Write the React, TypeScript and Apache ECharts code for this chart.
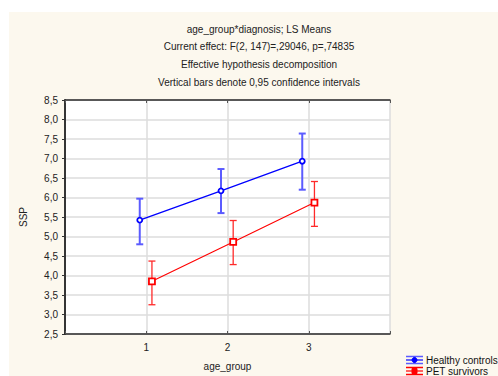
import React, { useEffect, useRef } from 'react';
import * as echarts from 'echarts';

const categories = [1, 2, 3];
const healthyMeans = [5.42, 6.17, 6.93];
const healthyLow = [4.80, 5.60, 6.20];
const healthyHigh = [5.97, 6.73, 7.64];
const petMeans = [3.85, 4.86, 5.87];
const petLow = [3.25, 4.28, 5.26];
const petHigh = [4.37, 5.41, 6.41];
const seriesNames = ['Healthy controls', 'PET survivors'];
const titleLines = [
  'age_group*diagnosis; LS Means',
  'Current effect: F(2, 147)=,29046, p=,74835',
  'Effective hypothesis decomposition',
  'Vertical bars denote 0,95 confidence intervals',
];

const FONT = "'Liberation Sans', Arial, sans-serif";
const BLUE = '#0000ff';
const RED = '#ff0000';
const BLUE_OFF = -0.08;
const RED_OFF = 0.07;

function errRender(color: string, width: number) {
  return (params: any, api: any) => {
    const x = api.value(0);
    const lo = api.coord([x, api.value(1)]);
    const hi = api.coord([x, api.value(2)]);
    const hw = 3.5;
    const style = { stroke: color, lineWidth: width };
    return {
      type: 'group',
      children: [
        { type: 'line', shape: { x1: lo[0], y1: lo[1], x2: hi[0], y2: hi[1] }, style },
        { type: 'line', shape: { x1: lo[0] - hw, y1: lo[1], x2: lo[0] + hw, y2: lo[1] }, style },
        { type: 'line', shape: { x1: hi[0] - hw, y1: hi[1], x2: hi[0] + hw, y2: hi[1] }, style },
      ],
    };
  };
}

function legendIcon(x: number, y: number, color: string, barColor: string, symbol: 'circle' | 'rect') {
  const w = 17;
  const els: any[] = [
    { type: 'line', shape: { x1: x, y1: y - 3.5, x2: x + w, y2: y - 3.5 }, style: { stroke: barColor, lineWidth: 1.5 } },
    { type: 'line', shape: { x1: x, y1: y, x2: x + w, y2: y }, style: { stroke: color, lineWidth: 1.2 } },
    { type: 'line', shape: { x1: x, y1: y + 3.5, x2: x + w, y2: y + 3.5 }, style: { stroke: barColor, lineWidth: 1.5 } },
    { type: 'line', shape: { x1: x + w / 2, y1: y - 3.5, x2: x + w / 2, y2: y + 3.5 }, style: { stroke: barColor, lineWidth: 1.5 } },
  ];
  if (symbol === 'circle') {
    els.push({ type: 'circle', shape: { cx: x + w / 2, cy: y, r: 2.5 }, style: { fill: color, stroke: color } });
  } else {
    els.push({ type: 'rect', shape: { x: x + w / 2 - 2.5, y: y - 2.5, width: 5, height: 5 }, style: { fill: color, stroke: color } });
  }
  return els;
}

export default function App() {
  const ref = useRef<HTMLDivElement>(null);
  useEffect(() => {
    if (!ref.current) return;
    const chart = echarts.init(ref.current, null, { renderer: 'svg' });
    const labelFmt = (v: number) => v.toFixed(1).replace('.', ',');
    const axisLine = { show: true, lineStyle: { color: '#2a2a2a', width: 1.5 } };
    const graphic: any[] = [
      { type: 'rect', shape: { x: 0, y: 0, width: 498, height: 12 }, style: { fill: '#ffffff' }, silent: true },
      { type: 'rect', shape: { x: 0, y: 0, width: 9, height: 376 }, style: { fill: '#ffffff' }, silent: true },
    ];
    titleLines.forEach((t, i) => {
      graphic.push({
        type: 'text', x: 259, y: 29 + i * 17.7,
        style: { text: t, font: `10px ${FONT}`, fill: '#222', textAlign: 'center', textVerticalAlign: 'middle' },
      });
    });
    graphic.push(...legendIcon(406, 360, BLUE, '#5b5bff', 'circle'));
    graphic.push(...legendIcon(406, 371, RED, RED, 'rect'));
    graphic.push({ type: 'text', x: 426, y: 360, style: { text: seriesNames[0], font: `10px ${FONT}`, fill: '#111', textVerticalAlign: 'middle' } });
    graphic.push({ type: 'text', x: 426, y: 371, style: { text: seriesNames[1], font: `10px ${FONT}`, fill: '#111', textVerticalAlign: 'middle' } });

    chart.setOption({
      animation: false,
      backgroundColor: '#fcf8ee',
      textStyle: { fontFamily: FONT },
      grid: { left: 65, top: 100, width: 325, height: 235, show: true, backgroundColor: '#ffffff', borderWidth: 0 },
      graphic,
      xAxis: [
        {
          type: 'value', min: 0, max: 4, interval: 1, position: 'bottom',
          name: 'age_group', nameLocation: 'middle', nameGap: 27,
          nameTextStyle: { fontSize: 10, color: '#222', fontFamily: FONT },
          axisLine, axisTick: { show: true, inside: true, length: 3, lineStyle: { color: '#555' } },
          axisLabel: { fontSize: 10, color: '#222', margin: 8, fontFamily: FONT, formatter: (v: number) => (v >= 1 && v <= 3 ? String(v) : '') },
          splitLine: { show: true, lineStyle: { color: '#dddddd', width: 1.5 } },
        },
        {
          type: 'value', min: 0, max: 4, interval: 1, position: 'top',
          axisLine, axisTick: { show: true, inside: true, length: 3, lineStyle: { color: '#555' } },
          axisLabel: { show: false }, splitLine: { show: false },
        },
      ],
      yAxis: [
        {
          type: 'value', min: 2.5, max: 8.5, interval: 0.5, position: 'left',
          name: 'SSP', nameLocation: 'middle', nameGap: 37, nameRotate: 90,
          nameTextStyle: { fontSize: 10, color: '#222', fontFamily: FONT },
          axisLine, axisTick: { show: true, inside: false, length: 3, lineStyle: { color: '#333' } },
          axisLabel: { fontSize: 10, color: '#222', margin: 7, fontFamily: FONT, formatter: labelFmt },
          splitLine: { show: true, lineStyle: { color: '#dddddd', width: 1.5 } },
        },
        {
          type: 'value', min: 2.5, max: 8.5, interval: 0.5, position: 'right',
          axisLine, axisTick: { show: true, inside: true, length: 3, lineStyle: { color: '#333' } },
          axisLabel: { show: false }, splitLine: { show: false },
        },
      ],
      series: [
        {
          type: 'custom', name: seriesNames[0] + ' CI', renderItem: errRender('#5b5bff', 2),
          data: categories.map((c, i) => [c + BLUE_OFF, healthyLow[i], healthyHigh[i]]), z: 2,
        },
        {
          type: 'custom', name: seriesNames[1] + ' CI', renderItem: errRender('#ff2a2a', 1.3),
          data: categories.map((c, i) => [c + RED_OFF, petLow[i], petHigh[i]]), z: 2,
        },
        {
          type: 'line', name: seriesNames[0], data: categories.map((c, i) => [c + BLUE_OFF, healthyMeans[i]]),
          lineStyle: { color: BLUE, width: 1.3 }, symbol: 'circle', symbolSize: 5,
          itemStyle: { color: '#ffffff', borderColor: BLUE, borderWidth: 1.8 }, z: 3,
        },
        {
          type: 'line', name: seriesNames[1], data: categories.map((c, i) => [c + RED_OFF, petMeans[i]]),
          lineStyle: { color: RED, width: 1.1 }, symbol: 'rect', symbolSize: 6,
          itemStyle: { color: '#ffffff', borderColor: RED, borderWidth: 1.8 }, z: 3,
        },
      ],
    });
    return () => chart.dispose();
  }, []);
  return <div ref={ref} style={{ position: 'fixed', left: 0, top: 0, width: 498, height: 376 }} />;
}
